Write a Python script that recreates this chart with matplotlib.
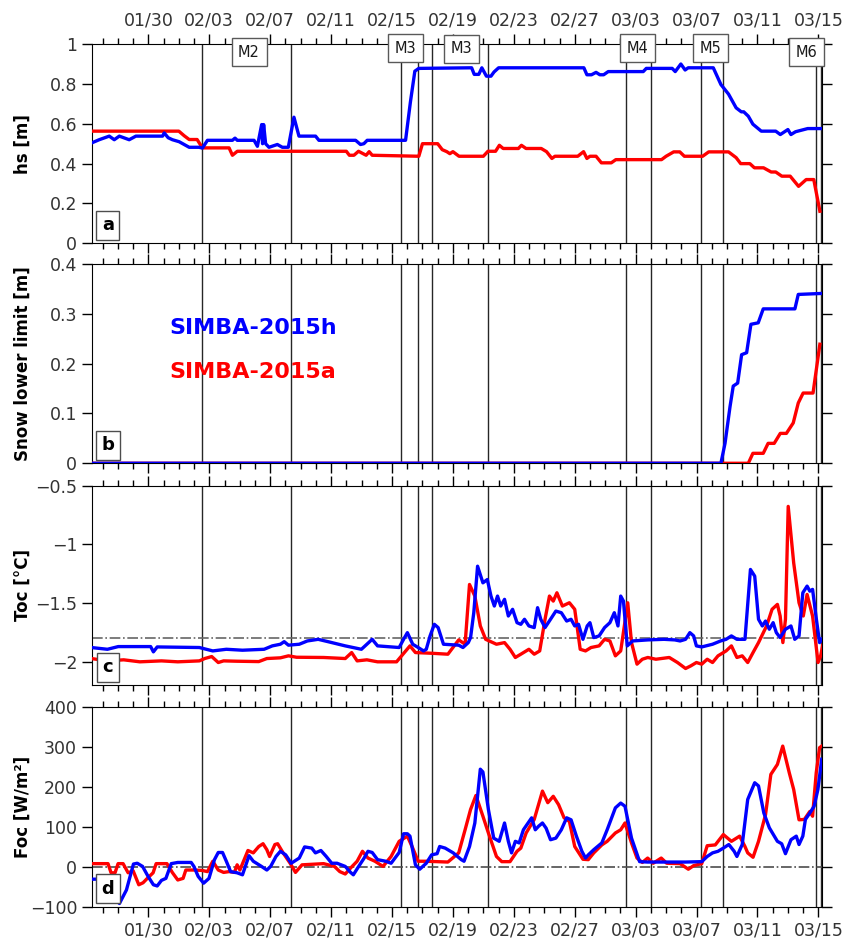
import numpy as np
import pandas as pd
import matplotlib
matplotlib.use('Agg')
import matplotlib.pyplot as plt
import matplotlib.dates as mdates
from matplotlib.ticker import FuncFormatter

# time is in days after 2015-01-26 00:00
start = pd.Timestamp('2015-01-26')

# instrument events (vertical lines) and their labels
event_days = [7.51, 13.37, 20.58, 21.69, 22.65, 26.31, 35.37, 36.99, 40.28, 41.72, 47.85, 48.16]
visit_labels = ['M2', 'M3', 'M3', 'M4', 'M5', 'M6']
visit_days = [10.61, 20.9, 24.54, 36.1, 40.89, 47.24]
visit_hs = [0.96, 0.98, 0.977, 0.98, 0.98, 0.96]

# (a) snow thickness hs [m]
hs_h = [(0.28, 0.504), (0.77, 0.52), (1.43, 0.538), (1.76, 0.52), (2.09, 0.538), (2.74, 0.52),
        (3.18, 0.538), (4.93, 0.538), (5.04, 0.554), (5.3, 0.53), (5.58, 0.52), (6.02, 0.51),
        (6.35, 0.496), (6.68, 0.482), (7.33, 0.482), (7.55, 0.478), (7.88, 0.517), (9.52, 0.517),
        (9.69, 0.528), (9.84, 0.517), (10.94, 0.517), (11.16, 0.487), (11.44, 0.596), (11.5, 0.5),
        (11.57, 0.596), (11.7, 0.5), (11.92, 0.482), (12.47, 0.496), (12.8, 0.482), (13.19, 0.482),
        (13.56, 0.633), (13.89, 0.538), (14.98, 0.538), (15.2, 0.517), (17.61, 0.517), (17.93, 0.496),
        (18.15, 0.5), (18.37, 0.517), (20.89, 0.517), (21.21, 0.71), (21.5, 0.864), (21.76, 0.878),
        (25.23, 0.881), (25.4, 0.848), (25.7, 0.848), (25.9, 0.881), (26.2, 0.839), (26.5, 0.839),
        (26.7, 0.86), (27.0, 0.881), (32.6, 0.881), (32.8, 0.846), (33.1, 0.846), (33.4, 0.858),
        (33.65, 0.846), (33.9, 0.846), (34.2, 0.862), (36.5, 0.862), (36.7, 0.878), (38.4, 0.878),
        (38.6, 0.862), (38.97, 0.9), (39.25, 0.87), (39.45, 0.881), (41.1, 0.881), (41.6, 0.797),
        (42.1, 0.749), (42.6, 0.68), (42.94, 0.66), (43.1, 0.66), (43.4, 0.638), (43.7, 0.598),
        (44.25, 0.563), (45.2, 0.563), (45.5, 0.546), (46.0, 0.571), (46.2, 0.546), (46.5, 0.56),
        (47.0, 0.57), (47.3, 0.576), (48.2, 0.576)]
hs_a = [(0.28, 0.563), (6.0, 0.563), (6.35, 0.54), (6.68, 0.521), (7.2, 0.521), (7.55, 0.479),
        (9.3, 0.479), (9.52, 0.442), (9.84, 0.462), (17.0, 0.462), (17.2, 0.442), (17.5, 0.442),
        (17.8, 0.462), (18.3, 0.442), (18.5, 0.46), (18.7, 0.442), (21.76, 0.437), (22.0, 0.5),
        (23.0, 0.5), (23.3, 0.47), (23.6, 0.46), (23.8, 0.45), (24.0, 0.46), (24.4, 0.437),
        (26.0, 0.437), (26.3, 0.462), (26.8, 0.462), (27.05, 0.492), (27.3, 0.476), (28.3, 0.476),
        (28.5, 0.492), (28.8, 0.476), (29.8, 0.476), (30.15, 0.46), (30.5, 0.426), (30.7, 0.437),
        (32.2, 0.437), (32.58, 0.46), (32.8, 0.426), (33.0, 0.437), (33.4, 0.437), (33.75, 0.404),
        (34.4, 0.404), (34.7, 0.42), (37.7, 0.42), (38.0, 0.437), (38.5, 0.459), (38.9, 0.459),
        (39.2, 0.437), (40.4, 0.437), (40.8, 0.459), (42.1, 0.459), (42.6, 0.43), (42.9, 0.4),
        (43.5, 0.4), (43.8, 0.379), (44.4, 0.379), (44.9, 0.358), (45.2, 0.358), (45.6, 0.337),
        (46.15, 0.337), (46.7, 0.286), (47.2, 0.32), (47.7, 0.32), (48.1, 0.161)]

# (b) snow lower limit [m]
low_h = [(0.28, 0.0), (41.6, 0.0), (41.87, 0.04), (42.2, 0.114), (42.41, 0.155), (42.7, 0.161),
         (42.96, 0.218), (43.29, 0.222), (43.57, 0.279), (44.05, 0.282), (44.38, 0.31), (46.46, 0.31),
         (46.68, 0.339), (48.24, 0.341)]
low_a = [(0.28, 0.0), (43.4, 0.0), (43.7, 0.02), (44.38, 0.02), (44.7, 0.04), (45.1, 0.04),
         (45.5, 0.06), (45.9, 0.06), (46.35, 0.081), (46.68, 0.121), (47.0, 0.141), (47.65, 0.141),
         (48.1, 0.239)]

# (c) ocean temperature Toc [°C]
toc_h = [(0.25, -1.88), (1.31, -1.895), (2.02, -1.872), (4.15, -1.872), (4.33, -1.917), (4.58, -1.875),
         (7.35, -1.88), (8.23, -1.909), (9.12, -1.895), (10.18, -1.903), (11.6, -1.895), (12.14, -1.866),
         (12.67, -1.852), (12.92, -1.83), (13.2, -1.86), (13.91, -1.852), (14.44, -1.824), (15.15, -1.81),
         (15.86, -1.832), (16.93, -1.866), (17.99, -1.895), (18.35, -1.852), (18.7, -1.81), (19.05, -1.866),
         (20.47, -1.88), (20.76, -1.81), (21.01, -1.753), (21.36, -1.852), (21.72, -1.88), (22.07, -1.909),
         (22.25, -1.895), (22.5, -1.781), (22.78, -1.682), (23.03, -1.71), (23.38, -1.852), (24.38, -1.86),
         (24.66, -1.88), (25.01, -1.838), (25.16, -1.795), (25.37, -1.583), (25.62, -1.186), (25.97, -1.328),
         (26.26, -1.3), (26.5, -1.441), (26.72, -1.526), (26.93, -1.441), (27.14, -1.526), (27.39, -1.469),
         (27.64, -1.611), (27.92, -1.554), (28.21, -1.668), (28.46, -1.682), (28.7, -1.639), (28.99, -1.696),
         (29.34, -1.71), (29.56, -1.54), (29.77, -1.639), (30.05, -1.71), (30.41, -1.639), (30.76, -1.569),
         (31.12, -1.583), (31.47, -1.654), (31.76, -1.639), (32.0, -1.696), (32.25, -1.682), (32.54, -1.81),
         (32.82, -1.696), (33.0, -1.668), (33.25, -1.795), (33.6, -1.781), (33.96, -1.71), (34.31, -1.668),
         (34.6, -1.583), (34.84, -1.696), (35.02, -1.441), (35.2, -1.484), (35.45, -1.866), (35.8, -1.824),
         (36.8, -1.815), (37.86, -1.81), (38.57, -1.815), (38.92, -1.824), (39.28, -1.81), (39.56, -1.753),
         (39.81, -1.781), (39.99, -1.866), (40.34, -1.875), (41.05, -1.852), (41.58, -1.824), (41.94, -1.81),
         (42.29, -1.781), (42.65, -1.81), (43.18, -1.81), (43.54, -1.214), (43.82, -1.271), (44.07, -1.639),
         (44.32, -1.696), (44.53, -1.654), (44.78, -1.724), (45.03, -1.668), (45.24, -1.753), (45.49, -1.795),
         (45.84, -1.724), (46.2, -1.696), (46.45, -1.81), (46.73, -1.781), (46.98, -1.413), (47.26, -1.356),
         (47.44, -1.399), (47.62, -1.384), (47.87, -1.639), (48.08, -1.838), (48.22, -1.81)]
toc_a = [(0.25, -1.974), (1.31, -1.994), (2.38, -1.985), (3.44, -2.002), (4.86, -1.994), (5.93, -2.002),
         (7.35, -1.994), (7.7, -1.974), (8.16, -1.957), (8.59, -2.008), (8.94, -1.994), (9.83, -1.997),
         (11.25, -2.0), (11.78, -1.974), (12.67, -1.968), (13.2, -1.951), (13.73, -1.963), (15.51, -1.965),
         (16.93, -1.974), (17.35, -1.923), (17.71, -1.994), (18.35, -1.985), (19.05, -2.002), (20.3, -2.002),
         (21.18, -1.866), (21.54, -1.923), (22.6, -1.929), (23.67, -1.937), (24.38, -1.815), (24.8, -1.852),
         (25.09, -1.342), (25.44, -1.441), (25.8, -1.696), (26.15, -1.81), (26.86, -1.852), (27.39, -1.838),
         (27.75, -1.895), (28.1, -1.965), (28.46, -1.937), (28.99, -1.895), (29.34, -1.937), (29.7, -1.909),
         (30.05, -1.639), (30.34, -1.441), (30.59, -1.484), (30.83, -1.413), (31.19, -1.526), (31.65, -1.498),
         (32.0, -1.554), (32.36, -1.895), (32.71, -1.909), (33.07, -1.88), (33.6, -1.866), (33.96, -1.81),
         (34.31, -1.824), (34.67, -1.951), (35.02, -1.909), (35.48, -1.498), (35.73, -1.838), (36.09, -2.022),
         (36.44, -1.98), (36.8, -1.965), (37.33, -1.98), (38.21, -1.965), (38.75, -2.008), (39.28, -2.059),
         (39.63, -2.036), (39.99, -2.008), (40.34, -2.022), (40.7, -1.98), (41.05, -2.008), (41.41, -1.951),
         (41.94, -1.909), (42.29, -1.866), (42.65, -1.965), (43.0, -1.951), (43.36, -2.008), (43.71, -1.923),
         (44.07, -1.838), (44.6, -1.696), (44.96, -1.554), (45.31, -1.512), (45.49, -1.611), (45.67, -1.838),
         (45.84, -1.639), (46.02, -0.676), (46.38, -1.158), (46.73, -1.498), (47.01, -1.611), (47.26, -1.427),
         (47.62, -1.611), (47.98, -2.008), (48.15, -1.951), (48.29, -1.86)]
toc_freeze = -1.8

# (d) ocean heat flux Foc [W/m2]
foc_h = [(0.28, -31), (0.6, -31), (2.1, -92), (2.56, -58), (3.02, 7), (3.27, 9), (3.62, 1), (3.98, -24),
         (4.33, -45), (4.58, -48), (4.86, -34), (5.15, -29), (5.5, 8), (5.93, 11), (6.81, 11), (6.99, 1),
         (7.27, -24), (7.63, -41), (7.98, -29), (8.34, 18), (8.59, 36), (8.87, 36), (9.12, 14), (9.4, -12),
         (9.83, -15), (10.18, -20), (10.61, 28), (10.89, 14), (11.43, 1), (11.78, -8), (12.03, 1), (12.38, 26),
         (12.67, 39), (13.02, 30), (13.38, 9), (13.91, 22), (14.26, 50), (14.73, 47), (14.97, 35), (15.33, 41),
         (15.68, 26), (16.04, 9), (16.39, 9), (16.93, 1), (17.28, -14), (17.46, -20), (17.81, 1), (18.17, 22),
         (18.42, 39), (18.7, 36), (19.05, 18), (19.59, 14), (19.94, 9), (20.47, 36), (20.76, 83), (21.01, 83),
         (21.18, 77), (21.54, 5), (21.82, -6), (22.25, 9), (22.6, 30), (22.96, 33), (23.13, 51), (23.49, 47),
         (24.02, 35), (24.55, 18), (24.73, 14), (25.09, 51), (25.44, 110), (25.8, 245), (25.97, 238),
         (26.33, 144), (26.68, 72), (27.04, 64), (27.39, 110), (27.64, 64), (27.85, 35), (28.1, 64),
         (28.35, 60), (28.63, 93), (29.17, 123), (29.41, 93), (29.63, 102), (29.88, 110), (30.12, 97),
         (30.41, 68), (30.76, 72), (31.12, 93), (31.47, 123), (31.76, 118), (32.11, 77), (32.47, 39),
         (32.71, 22), (32.89, 30), (33.25, 43), (33.78, 60), (34.13, 93), (34.67, 148), (35.02, 160),
         (35.3, 152), (35.73, 72), (36.26, 13), (36.79, 12), (38.21, 12), (39.28, 12), (40.34, 13),
         (40.7, 26), (41.05, 35), (41.41, 39), (41.76, 47), (42.12, 56), (42.47, 39), (42.65, 26), (43.0, 56),
         (43.36, 169), (43.82, 211), (44.07, 203), (44.42, 135), (44.78, 98), (45.31, 64), (45.59, 58),
         (45.84, 33), (46.2, 68), (46.55, 77), (46.73, 56), (46.98, 77), (47.15, 119), (47.44, 135),
         (47.72, 152), (47.97, 194), (48.22, 270)]
foc_a = [(0.28, 8), (1.35, 8), (1.55, -15), (1.81, -15), (2.01, 8), (2.34, 8), (2.67, -15), (3.0, -10),
         (3.37, -45), (3.65, -40), (3.98, -27), (4.31, -15), (4.51, 8), (5.22, 8), (5.57, -14), (5.93, -33),
         (6.28, -29), (6.46, -8), (6.99, -8), (7.52, -9), (7.88, -12), (8.23, 14), (8.59, -8), (8.94, -14),
         (9.3, -12), (9.65, -14), (9.83, 5), (10.01, -8), (10.54, 41), (10.89, 35), (11.25, 51), (11.53, 58),
         (11.78, 43), (11.96, 26), (12.31, 56), (12.49, 58), (12.85, 35), (13.31, 9), (13.66, -14), (14.09, 5),
         (15.51, 8), (16.22, 1), (16.57, -12), (16.93, -18), (17.28, -3), (17.71, 14), (18.06, 39),
         (18.42, 22), (18.88, 14), (19.41, 1), (19.94, 26), (20.47, 64), (21.01, 77), (21.36, 47),
         (21.72, 14), (22.25, 14), (23.67, 12), (24.38, 35), (24.8, 93), (25.16, 144), (25.51, 179),
         (25.97, 127), (26.33, 85), (26.86, 26), (27.21, 13), (27.75, 13), (28.21, 39), (28.46, 47),
         (28.81, 85), (29.34, 119), (29.88, 190), (30.23, 161), (30.59, 177), (30.94, 156), (31.3, 123),
         (31.65, 114), (32.0, 51), (32.54, 19), (32.89, 18), (33.25, 35), (33.78, 55), (34.13, 64),
         (34.67, 85), (35.02, 93), (35.3, 110), (35.73, 60), (36.09, 22), (36.44, 11), (36.79, 22),
         (37.15, 9), (37.68, 22), (38.04, 9), (38.92, 8), (39.46, -6), (39.81, 3), (40.34, 8), (40.7, 53),
         (41.23, 55), (41.76, 81), (42.29, 64), (42.83, 77), (43.18, 51), (43.36, 35), (43.71, 24),
         (44.07, 64), (44.53, 131), (44.88, 232), (45.31, 257), (45.66, 303), (46.09, 236), (46.38, 194),
         (46.73, 118), (47.08, 119), (47.44, 139), (47.62, 127), (47.86, 236), (48.08, 299), (48.29, 305)]


def when(days):
    return start + pd.to_timedelta(np.asarray(days, dtype=float), unit='D')


def series(pairs):
    d, v = np.array(pairs, dtype=float).T
    return when(d), v


def nice(v, pos):
    return ('%g' % v).replace('-', '\u2212')


blue = '#0000ff'
red = '#ff0000'

fig = plt.figure(figsize=(8.47, 9.42), dpi=100)
bottoms = [0.7417, 0.5082, 0.2728, 0.0375]
axs = [fig.add_axes([0.1083, b, 0.8622, 0.2115]) for b in bottoms]

panels = [
    (hs_a, hs_h, (0, 1), np.arange(0, 1.01, 0.2), 'hs [m]', 'a'),
    (low_a, low_h, (0, 0.4), np.arange(0, 0.41, 0.1), 'Snow lower limit [m]', 'b'),
    (toc_a, toc_h, (-2.2, -0.5), [-2, -1.5, -1, -0.5], 'Toc [°C]', 'c'),
    (foc_a, foc_h, (-100, 400), np.arange(-100, 401, 100), 'Foc [W/m²]', 'd'),
]

major = pd.date_range('2015-01-30', '2015-03-15', freq='4D')
minor = pd.date_range('2015-01-27', '2015-03-15', freq='D')

for ax, (ra, bl, ylim, yt, ylab, tag) in zip(axs, panels):
    for d in event_days:
        ax.axvline(when([d])[0], color='0.15', lw=1.0, zorder=1)
    t, v = series(ra)
    ax.plot(t, v, color=red, lw=2.4, zorder=3)
    t, v = series(bl)
    ax.plot(t, v, color=blue, lw=2.4, zorder=4)
    ax.set_yticks(yt)
    ax.yaxis.set_major_formatter(FuncFormatter(nice))
    ax.set_xticks(major)
    ax.set_xticks(minor, minor=True)
    ax.xaxis.set_major_formatter(mdates.DateFormatter('%m/%d'))
    # limits after the ticks, so the tick lists do not widen the view
    ax.set_xlim(when([0.28])[0], when([48.24])[0])
    ax.set_ylim(*ylim)
    ax.tick_params(which='both', direction='out', top=True, right=True,
                   labelsize=12.5, labelcolor='0.2', labelbottom=False)
    ax.tick_params(which='major', length=7, width=1)
    ax.tick_params(which='minor', length=4, width=1)
    ax.set_ylabel(ylab, fontsize=12, fontweight='bold')
    ax.yaxis.set_label_coords(-0.082, 0.5)
    ax.text(0.022, 0.09, tag, transform=ax.transAxes, ha='center', va='center',
            fontsize=13, fontweight='bold', zorder=6,
            bbox=dict(boxstyle='square,pad=0.3', fc='white', ec='0.3', lw=1))

axs[0].tick_params(labeltop=True)
axs[3].tick_params(labelbottom=True)

axs[2].axhline(toc_freeze, color='0.4', lw=1.2, ls='-.', zorder=2)
axs[3].axhline(0, color='0.3', lw=1.2, ls='-.', zorder=2)

for lab, d, y in zip(visit_labels, visit_days, visit_hs):
    axs[0].text(when([d])[0], y, lab, ha='center', va='center', fontsize=10.5, color='0.1',
                zorder=7, clip_on=False,
                bbox=dict(boxstyle='square,pad=0.45', fc='white', ec='0.35', lw=1))

axs[1].text(0.107, 0.68, 'SIMBA-2015h', transform=axs[1].transAxes, color=blue,
            fontsize=16, fontweight='bold', va='center')
axs[1].text(0.107, 0.46, 'SIMBA-2015a', transform=axs[1].transAxes, color=red,
            fontsize=16, fontweight='bold', va='center')

fig.savefig('out.png', dpi=100)
